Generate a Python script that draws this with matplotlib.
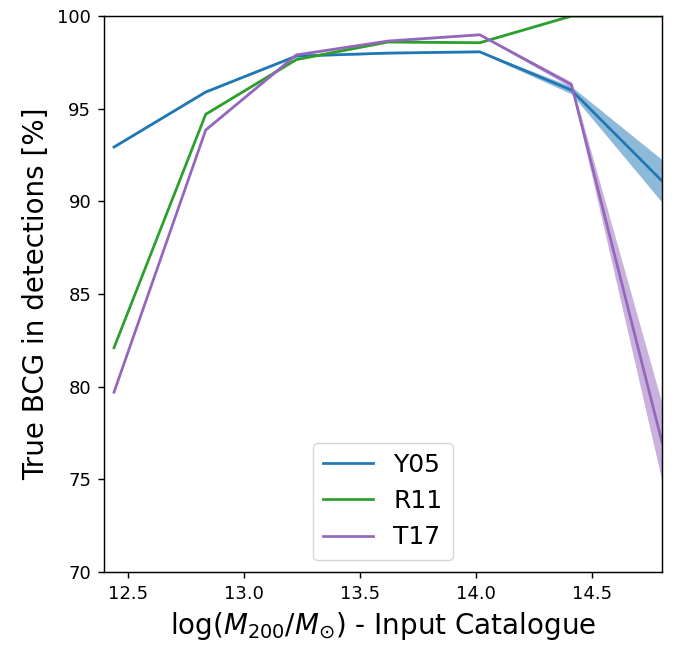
import matplotlib
matplotlib.use("Agg")
import matplotlib.pyplot as plt
import numpy as np

mass = [12.44, 12.835, 13.225, 13.62, 14.015, 14.41, 14.80]
y05 = [92.93, 95.9, 97.84, 98.0, 98.07, 96.0, 91.1]
y05_err = [0.05, 0.05, 0.05, 0.05, 0.05, 0.2, 1.15]
r11 = [82.1, 94.7, 97.65, 98.6, 98.56, 100.0, 100.0]
r11_err = [0.05, 0.05, 0.05, 0.05, 0.05, 0.05, 0.05]
t17 = [79.7, 93.85, 97.9, 98.65, 98.99, 96.3, 77.0]
t17_err = [0.05, 0.05, 0.05, 0.05, 0.05, 0.15, 2.1]

series = [("Y05", y05, y05_err, "tab:blue"),
          ("R11", r11, r11_err, "tab:green"),
          ("T17", t17, t17_err, "tab:purple")]

s = 1.3
fig = plt.figure(figsize=(6.76, 6.46), dpi=100)
ax = fig.add_axes([104/676, 1-572/646, 558/676, 556/646])
x = np.array(mass)
for name, v, e, c in series:
    v = np.array(v); e = np.array(e)
    ax.plot(x, v, color=c, lw=1.5 * s, label=name)
    ax.fill_between(x, v - e, v + e, color=c, alpha=0.5, lw=0)

ax.set_xlim(12.397, 14.80)
ax.set_ylim(70, 100)
ax.set_xticks([12.5, 13.0, 13.5, 14.0, 14.5])
ax.set_yticks([70, 75, 80, 85, 90, 95, 100])
ax.tick_params(labelsize=13, length=3.5 * s, width=0.8 * s, pad=3.5 * s)
for sp in ax.spines.values():
    sp.set_linewidth(0.8 * s)
ax.set_xlabel(r"log($M_{200}/M_{\odot}$) - Input Catalogue", fontsize=20, labelpad=4 * s)
ax.set_ylabel("True BCG in detections [%]", fontsize=20, labelpad=4 * s)
ax.legend(loc="lower center", fontsize=18)
fig.savefig("out.png", dpi=100)
